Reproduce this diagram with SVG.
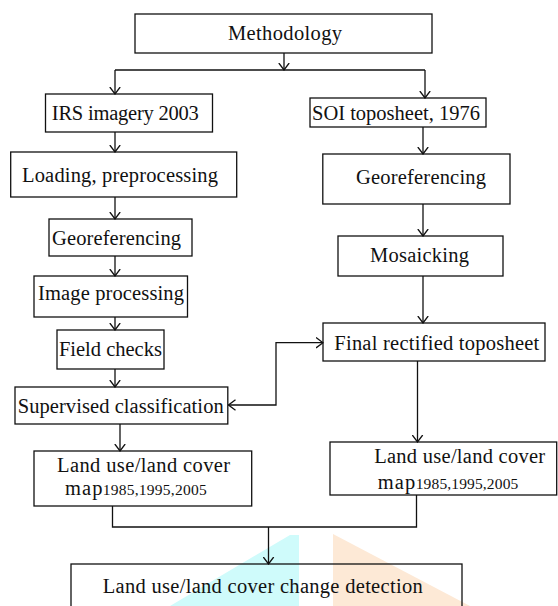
<svg xmlns="http://www.w3.org/2000/svg" width="558" height="606" viewBox="0 0 558 606">
<defs>
<style>
.box{fill:none;stroke:#111;stroke-width:1.3}
.ln{fill:none;stroke:#111;stroke-width:1.3}
.t{font-family:"Liberation Serif","Times New Roman",serif;font-size:20.5px;fill:#111;text-anchor:middle}
.tl{font-family:"Liberation Serif","Times New Roman",serif;font-size:20.5px;fill:#111}
.sm{font-size:15.5px}
</style>
<marker id="ah" viewBox="0 0 8 12" refX="7.5" refY="6" markerWidth="8" markerHeight="12" markerUnits="userSpaceOnUse" orient="auto-start-reverse">
<path d="M0.5,0.8 L7.5,6 L0.5,11.2" fill="none" stroke="#111" stroke-width="1.3"/>
</marker>
</defs>
<rect x="0" y="0" width="558" height="606" fill="#fff"/>
<g id="watermark">
<polygon points="170,606 290,535 299,535 299,606" fill="#cffbfb"/>
<polygon points="333,534 470,606 333,606" fill="#fde9d6"/>
</g>
<g id="connectors">
<path class="ln" d="M284,53 V70" marker-end="url(#ah)"/>
<path class="ln" d="M115,70 H425"/>
<path class="ln" d="M115,70 V94" marker-end="url(#ah)"/>
<path class="ln" d="M425,70 V98" marker-end="url(#ah)"/>
<path class="ln" d="M115,132 V152" marker-end="url(#ah)"/>
<path class="ln" d="M423,127 V154" marker-end="url(#ah)"/>
<path class="ln" d="M115,197 V219" marker-end="url(#ah)"/>
<path class="ln" d="M115,256 V276" marker-end="url(#ah)"/>
<path class="ln" d="M115,317 V330" marker-end="url(#ah)"/>
<path class="ln" d="M115,369 V387" marker-end="url(#ah)"/>
<path class="ln" d="M423,204 V236" marker-end="url(#ah)"/>
<path class="ln" d="M423,276 V323" marker-end="url(#ah)"/>
<path class="ln" d="M417.5,361 V442" marker-end="url(#ah)"/>
<path class="ln" d="M228.5,405 H276 V342.7 H323" marker-start="url(#ah)" marker-end="url(#ah)"/>
<path class="ln" d="M120,424 V451" marker-end="url(#ah)"/>
<path class="ln" d="M112.5,506 V527 H416.5 V495"/>
<path class="ln" d="M268.5,527 V564" marker-end="url(#ah)"/>
</g>
<g id="methodology">
<rect class="box" x="135" y="14" width="297" height="39"/>
<text class="t" x="285" y="40" textLength="114">Methodology</text>
</g>
<g id="irs">
<rect class="box" x="45.5" y="94" width="167" height="38"/>
<text class="t" x="125.3" y="119.5" textLength="147">IRS imagery 2003</text>
</g>
<g id="soi">
<rect class="box" x="310" y="98" width="176" height="29"/>
<text class="t" x="396" y="119.5" textLength="168">SOI toposheet, 1976</text>
</g>
<g id="loading">
<rect class="box" x="10.7" y="152" width="226" height="45"/>
<text class="t" x="120" y="182" textLength="196">Loading, preprocessing</text>
</g>
<g id="georef-right">
<rect class="box" x="322.8" y="154" width="187.2" height="50"/>
<text class="t" x="421" y="184" textLength="130">Georeferencing</text>
</g>
<g id="georef-left">
<rect class="box" x="49" y="219" width="143" height="37"/>
<text class="t" x="116.5" y="245" textLength="129">Georeferencing</text>
</g>
<g id="image-processing">
<rect class="box" x="34" y="276" width="153.5" height="41"/>
<text class="t" x="111" y="300" textLength="146">Image processing</text>
</g>
<g id="field-checks">
<rect class="box" x="57" y="330" width="107" height="39"/>
<text class="t" x="110.4" y="355.7" textLength="103">Field checks</text>
</g>
<g id="mosaicking">
<rect class="box" x="338" y="236" width="165" height="40"/>
<text class="t" x="419.5" y="261.7" textLength="99">Mosaicking</text>
</g>
<g id="final">
<rect class="box" x="323" y="323" width="222" height="38"/>
<text class="t" x="436.8" y="350" textLength="205">Final rectified toposheet</text>
</g>
<g id="supervised">
<rect class="box" x="15" y="387" width="212.8" height="37"/>
<text class="t" x="120.7" y="413.3" textLength="206">Supervised classification</text>
</g>
<g id="lu-left">
<rect class="box" x="34" y="451" width="217.7" height="55"/>
<text class="t" x="143.6" y="471.7" textLength="173">Land use/land cover</text>
<text class="tl" y="495"><tspan x="65" textLength="37.5">map</tspan><tspan class="sm" x="102.7" textLength="104">1985,1995,2005</tspan></text>
</g>
<g id="lu-right">
<rect class="box" x="330" y="442" width="226.7" height="53"/>
<text class="t" x="459.7" y="462.7" textLength="171">Land use/land cover</text>
<text class="tl" y="489.3"><tspan x="377.7" textLength="37.5">map</tspan><tspan class="sm" x="415.7" textLength="102.6">1985,1995,2005</tspan></text>
</g>
<g id="change-detection">
<rect class="box" x="71" y="564" width="391" height="60"/>
<text class="t" x="262.7" y="592.7" textLength="320">Land use/land cover change detection</text>
</g>
</svg>
